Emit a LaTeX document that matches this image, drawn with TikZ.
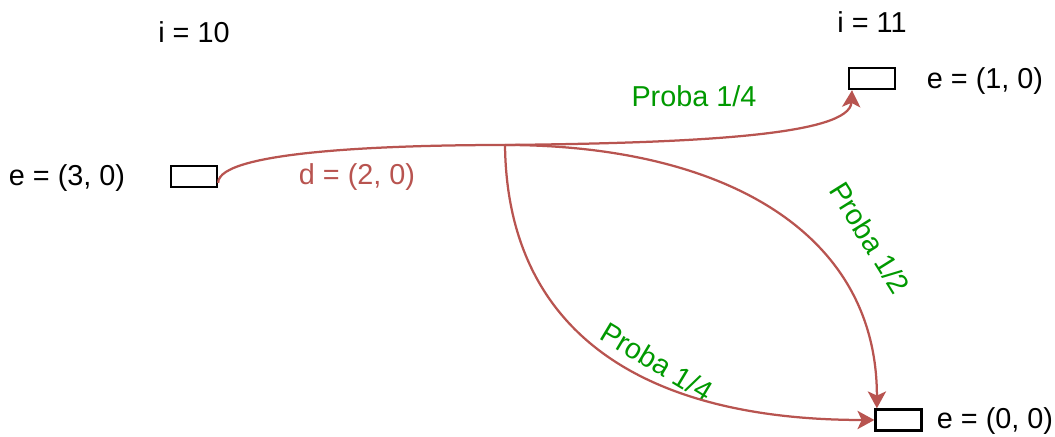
\documentclass[tikz,border=0pt]{standalone}
\usepackage{fontspec}
\setmainfont{Liberation Sans}
\usepackage{xcolor}
\usetikzlibrary{arrows.meta}
\definecolor{edgered}{HTML}{B85450}
\definecolor{probagreen}{HTML}{009900}

\begin{document}
\begin{tikzpicture}[
  cell/.style={draw, line width=1.6pt, minimum width=1.15cm, minimum height=0.53cm, inner sep=0pt},
  lbl/.style={font=\fontsize{20.5}{24}\selectfont, inner sep=1pt},
  proba/.style={lbl, text=probagreen},
  arr/.style={-{Stealth[length=12pt, width=13pt, inset=3pt]}, line width=1.6pt, edgered}
]
  \useasboundingbox (0,0) rectangle (26.375,10.925);

  % boxes
  \node[cell] (src) at (4.85,6.5125) {};
  \node[cell] (dst1) at (21.8,8.9625) {};
  \node[cell] (dst2) at (22.4625,0.425) {};
  \coordinate (split) at (12.625,7.3);

  % texts
  \node[lbl] (i10) at (4.85,10.125) {i = 10};
  \node[lbl] (i11) at (21.8,10.375) {i = 11};
  \node[lbl] (e30) at (1.675,6.475) {e = (3, 0)};
  \node[lbl] (e10) at (24.625,8.9) {e = (1, 0)};
  \node[lbl] (e00) at (24.875,0.4) {e = (0, 0)};
  \node[lbl, text=edgered] (d20) at (8.925,6.5) {d = (2, 0)};
  \node[proba] (p1) at (17.35,8.525) {Proba 1/4};
  \node[proba, rotate=-58] (p2) at (21.75,4.975) {Proba 1/2};
  \node[proba, rotate=-31] (p3) at (16.425,1.875) {Proba 1/4};

  % transitions
  \draw[line width=1.6pt, edgered] ([yshift=-0.16cm]src.east) .. controls (5.45,7.175) and (10,7.3) .. (split);
  \draw[arr] (split) .. controls (17.5,7.35) and (21.25,7.55) .. ([xshift=-0.5cm]dst1.south);
  \draw[arr] (split) .. controls (12.675,2.675) and (16,0.425) .. (dst2.west);
  \draw[arr] (split) .. controls (18,7.3) and (21.925,5.175) .. ([xshift=-0.54cm]dst2.north);
\end{tikzpicture}
\end{document}
